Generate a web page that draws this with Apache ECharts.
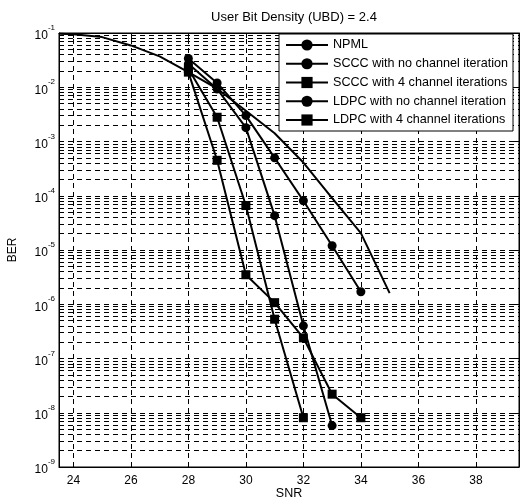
<!DOCTYPE html>
<html>
<head>
<meta charset="utf-8">
<script src="https://cdn.jsdelivr.net/npm/echarts@6/dist/echarts.min.js"></script>
<style>html,body{margin:0;padding:0;background:#fff}#c{width:520px;height:499px}</style>
</head>
<body>
<div id="c"></div>
<script>
const FONT = '"Liberation Sans", Arial, Helvetica, sans-serif';
const titleText = 'User Bit Density (UBD) = 2.4';
const xTicks = [24, 26, 28, 30, 32, 34, 36, 38];
const npmlSnr = [23.5, 24, 25, 26, 27, 28, 29, 30, 31, 32, 33, 34, 35];
const npmlBer = [0.097, 0.095, 0.084, 0.059, 0.037, 0.019, 0.0094, 3.7e-3, 1.42e-3, 4.1e-4, 9.0e-5, 2.05e-5, 1.6e-6];
const codedSnr = [28, 29, 30, 31, 32, 33, 34];
const scccNoIter = [0.034, 0.012, 3.0e-3, 5.0e-4, 8.1e-5, 1.2e-5, 1.7e-6];
const scccIter4 = [0.019, 4.5e-4, 3.5e-6, 1.07e-6, 2.4e-7, 2.2e-8, 8.1e-9];
const ldpcNoIter = [0.027, 0.0093, 1.8e-3, 4.3e-5, 4.0e-7, 5.8e-9];
const ldpcIter4 = [0.022, 2.8e-3, 6.6e-5, 5.3e-7, 8.1e-9];
const names = ['NPML', 'SCCC with no channel iteration', 'SCCC with 4 channel iterations',
  'LDPC with no channel iteration', 'LDPC with 4 channel iterations'];

const zip = (xs, ys) => ys.map((y, i) => [xs[i], y]);

// grid-line positions (not data)
const minorY = [];
for (let e = -9; e < -1; e++) for (let m = 2; m <= 9; m++) minorY.push(m * Math.pow(10, e));
const gridDash = [5, 4];
const X_MIN = 23.5, X_MAX = 39.5;

function mkSeries(name, data, symbol) {
  return {
    name, type: 'line', data, symbol: symbol || 'none', symbolSize: 9,
    showSymbol: !!symbol,
    lineStyle: { color: '#000', width: 2 },
    itemStyle: { color: '#000' },
    z: 5, animation: false
  };
}

const chart = echarts.init(document.getElementById('c'), null, { renderer: 'canvas' });
chart.setOption({
  animation: false,
  backgroundColor: '#fff',
  textStyle: { fontFamily: FONT, color: '#000' },
  title: {
    text: titleText, left: 289, top: 6, textAlign: 'center',
    textStyle: { fontFamily: FONT, fontSize: 13, fontWeight: 'normal', color: '#000' }
  },
  grid: {
    left: 59, right: 1, top: 33, bottom: 32, show: true, borderColor: '#000', borderWidth: 1,
    backgroundColor: 'transparent', containLabel: false, outerBoundsMode: 'none'
  },
  legend: {
    data: names, orient: 'vertical', left: 279, top: 34,
    backgroundColor: '#fff', borderColor: '#000', borderWidth: 1,
    padding: [4, 5, 4, 6], itemWidth: 42, itemHeight: 14, itemGap: 4.75,
    textStyle: { fontFamily: FONT, fontSize: 12.6, color: '#000', lineHeight: 14 },
    z: 20
  },
  xAxis: [{
    type: 'value', min: X_MIN, max: X_MAX, name: 'SNR', nameLocation: 'middle', nameGap: 20,
    nameMoveOverlap: false,
    nameTextStyle: { fontFamily: FONT, fontSize: 12.5, color: '#000' },
    axisLine: { lineStyle: { color: '#000' } },
    axisTick: { inside: true, length: 5, customValues: xTicks, lineStyle: { color: '#000' } },
    axisLabel: { customValues: xTicks, fontFamily: FONT, fontSize: 12, color: '#000', margin: 8 },
    splitLine: { show: false }
  }, {
    type: 'value', min: X_MIN, max: X_MAX, position: 'top',
    axisLine: { lineStyle: { color: '#000' } },
    axisTick: { inside: true, length: 5, customValues: xTicks, lineStyle: { color: '#000' } },
    axisLabel: { show: false }, splitLine: { show: false }
  }],
  yAxis: [{
    type: 'log', logBase: 10, min: 1e-9, max: 1e-1, name: 'BER', nameLocation: 'middle', nameGap: 40,
    nameMoveOverlap: false,
    nameTextStyle: { fontFamily: FONT, fontSize: 12, color: '#000' },
    axisLine: { lineStyle: { color: '#000' } },
    axisTick: { inside: true, length: 5, lineStyle: { color: '#000' } },
    axisLabel: {
      margin: 4,
      formatter: v => '{b|10}{s|' + Math.round(Math.log10(v)) + '}',
      rich: {
        b: { fontFamily: FONT, fontSize: 12, color: '#000', lineHeight: 18, verticalAlign: 'bottom' },
        s: { fontFamily: FONT, fontSize: 8, color: '#000', lineHeight: 18, verticalAlign: 'top' }
      }
    },
    splitLine: { show: true, lineStyle: { color: '#000', type: gridDash, width: 1 } }
  }, {
    type: 'log', logBase: 10, min: 1e-9, max: 1e-1, position: 'right',
    axisLine: { lineStyle: { color: '#000' } },
    axisTick: { inside: true, length: 5, lineStyle: { color: '#000' } },
    axisLabel: { show: false }, splitLine: { show: false }
  }],
  series: [
    {
      name: 'vgrid', type: 'line', data: [], silent: true, z: 1,
      markLine: {
        silent: true, symbol: ['none', 'none'], label: { show: false }, animation: false,
        lineStyle: { color: '#000', type: gridDash, width: 1 },
        data: xTicks.map(v => ({ xAxis: v }))
      }
    },
    {
      name: 'hgrid', type: 'lines', coordinateSystem: 'cartesian2d', silent: true, z: 1,
      animation: false, polyline: false,
      lineStyle: { color: '#000', type: gridDash, width: 1, opacity: 1 },
      data: minorY.map(v => ({ coords: [[X_MIN, v], [X_MAX, v]] }))
    },
    mkSeries(names[0], zip(npmlSnr, npmlBer)),
    mkSeries(names[1], zip(codedSnr, scccNoIter), 'circle'),
    mkSeries(names[2], zip(codedSnr, scccIter4), 'rect'),
    mkSeries(names[3], zip(codedSnr, ldpcNoIter), 'circle'),
    mkSeries(names[4], zip(codedSnr, ldpcIter4), 'rect')
  ]
});
</script>
</body>
</html>
